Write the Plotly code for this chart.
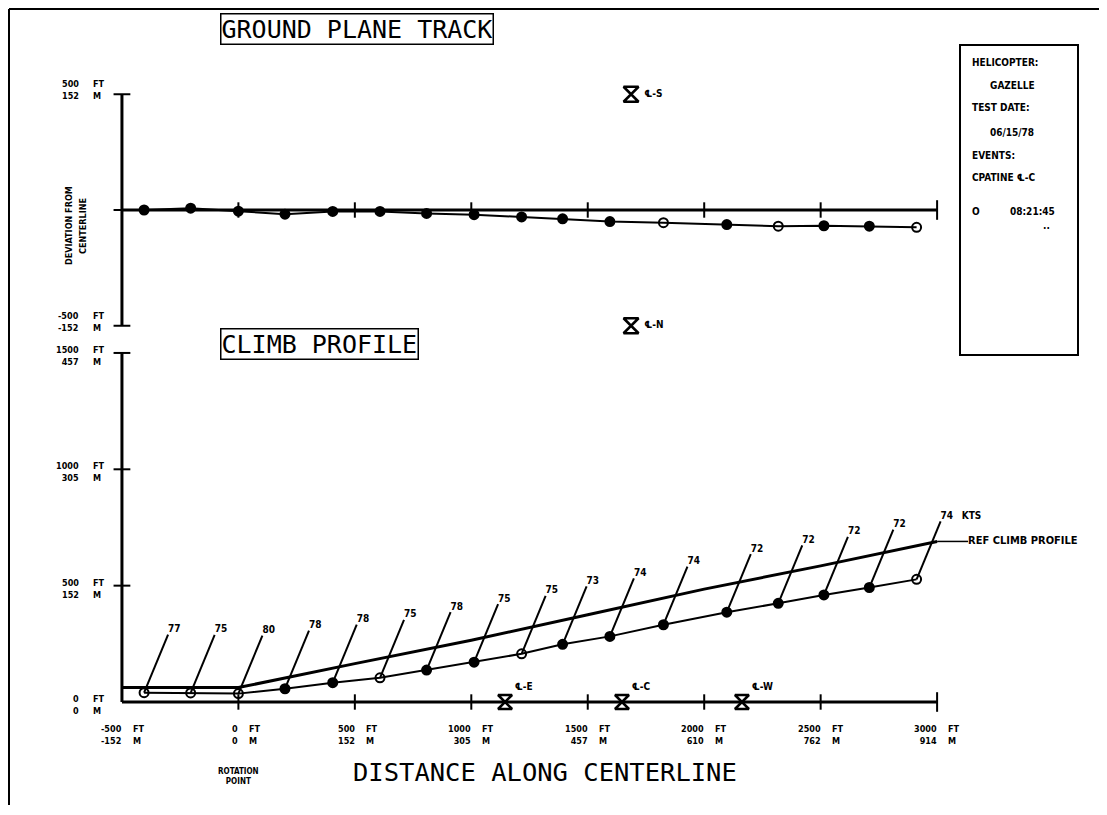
import plotly.graph_objects as go

# ---------------- data ----------------
dist_ft = [-405, -205, 0, 200, 405, 608, 808, 1012, 1216, 1392, 1595, 1825, 2097, 2318, 2514, 2709, 2912]
height_ft = [40, 39, 36, 57, 83, 104, 137, 171, 207, 248, 282, 332, 386, 424, 460, 492, 527]
deviation_ft = [0, 8, -5, -18, -6, -6, -15, -20, -30, -38, -50, -55, -63, -70, -68, -70, -75]
speed_kts = [77, 75, 80, 78, 78, 75, 78, 75, 75, 73, 74, 74, 72, 72, 72, 72, 74]

ref_dist_ft = [-500, 0, 500, 1000, 1500, 2000, 2500, 3000]
ref_height_ft = [62, 62, 165, 265, 375, 485, 585, 690]

x_ticks_ft = [-500, 0, 500, 1000, 1500, 2000, 2500, 3000]
x_ticks_m = [-152, 0, 152, 305, 457, 610, 762, 914]
climb_ticks_ft = [0, 500, 1000, 1500]
climb_ticks_m = [0, 152, 305, 457]
track_ticks_ft = [-500, 500]
track_ticks_m = [-152, 152]

mic_track_names = ["℄-S", "℄-N"]
mic_track_x = [1686, 1686]
mic_track_y = [500, -500]
mic_climb_names = ["℄-E", "℄-C", "℄-W"]
mic_climb_x = [1145, 1647, 2162]

legend_lines = ["HELICOPTER:", "GAZELLE", "TEST DATE:", "06/15/78", "EVENTS:", "CPATINE ℄-C"]
event_symbol = "O"
event_time = "08:21:45"

# ---------------- geometry / style ----------------
W, H, OFF = 1091, 799, 8          # figure size, body margin
def px_x(p): return (p - OFF) / W
def px_y(p): return 1 - (p - OFF) / H

X0, XS = 238.4, 0.2329            # px of 0 ft, px per ft (distance)
B0, BS = 702.0, 0.2327            # climb panel
T0, TS = 210.0, 0.2315            # track panel
XL, XR = 100, 1000
BT, BB = 346, 712
TT, TB = 80, 340

LEAD_DX = 24 / XS
LEAD_DY = 58 / BS
REF_TAIL = 31 / XS

INK = "black"
FB = "DejaVu Sans Condensed, DejaVu Sans, sans-serif"
FM = "DejaVu Sans Mono, Liberation Mono, monospace"
open_climb = {0, 1, 2, 5, 8, 16}
open_track = {11, 13, 16}

fig = go.Figure()

def line_trace(xs, ys, w, xa="x", ya="y"):
    return go.Scatter(x=xs, y=ys, mode="lines", xaxis=xa, yaxis=ya,
                      line=dict(color=INK, width=w), hoverinfo="skip", showlegend=False)

def tick_trace(xs, ys, sym, size, xa="x", ya="y"):
    return go.Scatter(x=xs, y=ys, mode="markers", xaxis=xa, yaxis=ya,
                      marker=dict(symbol=sym, size=size, color=INK, line=dict(color=INK, width=2)),
                      showlegend=False, hoverinfo="skip", cliponaxis=False)

# ---------- climb panel ----------
xa0, xa1 = x_ticks_ft[0], x_ticks_ft[-1]
fig.add_trace(line_trace([xa0, xa0, None, xa0, xa1],
                         [climb_ticks_ft[0], climb_ticks_ft[-1], None, 0, 0], 3))
fig.add_trace(tick_trace(x_ticks_ft[1:-1], [0] * (len(x_ticks_ft) - 2), "line-ns-open", 11))
fig.add_trace(tick_trace([xa1], [0], "line-ns-open", 14))
fig.add_trace(tick_trace([xa0] * (len(climb_ticks_ft) - 1), climb_ticks_ft[1:], "line-ew-open", 12))
# reference profile
fig.add_trace(line_trace(ref_dist_ft, ref_height_ft, 3))
fig.add_trace(go.Scatter(x=[ref_dist_ft[-1], ref_dist_ft[-1] + REF_TAIL],
                         y=[ref_height_ft[-1], ref_height_ft[-1]], mode="lines+text",
                         text=["", "<b>REF CLIMB PROFILE</b>"], textposition="middle right",
                         textfont=dict(family=FB, size=11, color=INK),
                         line=dict(color=INK, width=1.5), showlegend=False,
                         hoverinfo="skip", cliponaxis=False))
# leaders
lx, ly = [], []
for x, y in zip(dist_ft, height_ft):
    lx += [x, x + LEAD_DX, None]
    ly += [y, y + LEAD_DY, None]
fig.add_trace(line_trace(lx, ly, 2))
labels = ["<b>%d</b>" % s for s in speed_kts]
labels[-1] += "\u00a0\u00a0\u00a0<b>KTS</b>"
fig.add_trace(go.Scatter(x=[x + LEAD_DX for x in dist_ft], y=[y + LEAD_DY for y in height_ft],
                         mode="text", text=labels, textposition="top right",
                         textfont=dict(family=FB, size=10, color=INK),
                         showlegend=False, hoverinfo="skip", cliponaxis=False))
# flight path
fig.add_trace(go.Scatter(x=dist_ft, y=height_ft, mode="lines+markers",
                         line=dict(color=INK, width=2),
                         marker=dict(symbol=["circle-open" if i in open_climb else "circle"
                                             for i in range(len(dist_ft))],
                                     size=9, color=INK, line=dict(color=INK, width=2)),
                         showlegend=False, cliponaxis=False))
fig.add_trace(go.Scatter(x=mic_climb_x, y=[0] * len(mic_climb_x), mode="markers+text",
                         text=["<b>%s</b>" % n for n in mic_climb_names], textposition="top right",
                         textfont=dict(family=FB, size=10, color=INK),
                         marker=dict(symbol="hourglass-open", size=14, color=INK,
                                     line=dict(color=INK, width=2.5)),
                         showlegend=False, cliponaxis=False))

# ---------- ground track panel ----------
fig.add_trace(line_trace([xa0, xa0, None, xa0, xa1],
                         [track_ticks_ft[0], track_ticks_ft[-1], None, 0, 0], 3, "x2", "y2"))
fig.add_trace(tick_trace(x_ticks_ft[1:-1], [0] * (len(x_ticks_ft) - 2), "line-ns-open", 11, "x2", "y2"))
fig.add_trace(tick_trace([xa1], [0], "line-ns-open", 14, "x2", "y2"))
fig.add_trace(tick_trace([xa0] * 3, [track_ticks_ft[0], 0, track_ticks_ft[-1]], "line-ew-open", 12, "x2", "y2"))
fig.add_trace(go.Scatter(x=dist_ft, y=deviation_ft, mode="lines+markers", xaxis="x2", yaxis="y2",
                         line=dict(color=INK, width=2),
                         marker=dict(symbol=["circle-open" if i in open_track else "circle"
                                             for i in range(len(dist_ft))],
                                     size=9, color=INK, line=dict(color=INK, width=2)),
                         showlegend=False, cliponaxis=False))
fig.add_trace(go.Scatter(x=mic_track_x, y=mic_track_y, mode="markers+text", xaxis="x2", yaxis="y2",
                         text=["\u00a0<b>%s</b>" % n for n in mic_track_names], textposition="middle right",
                         textfont=dict(family=FB, size=10, color=INK),
                         marker=dict(symbol="hourglass-open", size=15, color=INK,
                                     line=dict(color=INK, width=2.5)),
                         showlegend=False, cliponaxis=False))

# ---------- axes ----------
xrange_ = [(XL - X0) / XS, (XR - X0) / XS]
ax_common = dict(showgrid=False, zeroline=False, showline=False, showticklabels=False, ticks="")
fig.update_layout(
    width=W, height=H, margin=dict(l=0, r=0, t=0, b=0),
    paper_bgcolor="white", plot_bgcolor="white", showlegend=False,
    xaxis=dict(domain=[px_x(XL), px_x(XR)], range=xrange_, anchor="y", **ax_common),
    yaxis=dict(domain=[px_y(BB), px_y(BT)], range=[(B0 - BB) / BS, (B0 - BT) / BS], anchor="x", **ax_common),
    xaxis2=dict(domain=[px_x(XL), px_x(XR)], range=xrange_, anchor="y2", **ax_common),
    yaxis2=dict(domain=[px_y(TB), px_y(TT)], range=[(T0 - TB) / TS, (T0 - TT) / TS], anchor="x2", **ax_common),
)

ann = []
def A(**kw):
    base = dict(showarrow=False, font=dict(family=FB, size=9, color=INK),
                xanchor="center", yanchor="middle")
    base.update(kw)
    ann.append(base)

# x tick labels
for ft, m in zip(x_ticks_ft, x_ticks_m):
    A(text="<b>%d<br>%d</b>" % (ft, m), xref="x", x=ft, xshift=2, xanchor="right",
      yref="paper", y=px_y(722), yanchor="top", align="right")
    A(text="<b>FT<br>M</b>", xref="x", x=ft, xshift=9, xanchor="left",
      yref="paper", y=px_y(722), yanchor="top", align="left")
# climb y tick labels
for ft, m in zip(climb_ticks_ft, climb_ticks_m):
    A(text="<b>%d<br>%d</b>" % (ft, m), xref="paper", x=px_x(81), xanchor="right",
      yref="y", y=ft, yshift=-3, align="right")
    A(text="<b>FT<br>M</b>", xref="paper", x=px_x(91), xanchor="left",
      yref="y", y=ft, yshift=-3, align="left")
# track y tick labels
for ft, m in zip(track_ticks_ft, track_ticks_m):
    A(text="<b>%d<br>%d</b>" % (ft, m), xref="paper", x=px_x(81), xanchor="right",
      yref="y2", y=ft, yshift=4, align="right")
    A(text="<b>FT<br>M</b>", xref="paper", x=px_x(91), xanchor="left",
      yref="y2", y=ft, yshift=4, align="left")
# track axis title
A(text="<b>DEVIATION FROM</b>", xref="paper", x=px_x(69), yref="paper", y=px_y(226),
  textangle=-90, font=dict(family=FB, size=9, color=INK))
A(text="<b>CENTERLINE</b>", xref="paper", x=px_x(83), yref="paper", y=px_y(226),
  textangle=-90, font=dict(family=FB, size=9, color=INK))
# panel titles
A(text="GROUND PLANE TRACK", xref="paper", x=px_x(220), xanchor="left", yref="paper", y=px_y(29),
  font=dict(family=FM, size=25, color=INK), bordercolor=INK, borderwidth=1.5, borderpad=0)
A(text="CLIMB PROFILE", xref="paper", x=px_x(220), xanchor="left", yref="paper", y=px_y(344),
  font=dict(family=FM, size=25, color=INK), bordercolor=INK, borderwidth=1.5, borderpad=0)
# x-axis title
A(text="DISTANCE ALONG CENTERLINE", xref="paper", x=px_x(545), yref="paper", y=px_y(772),
  font=dict(family=FM, size=25.5, color=INK))
A(text="<b>ROTATION<br>POINT</b>", xref="x", x=0, yref="paper", y=px_y(776),
  font=dict(family=FB, size=8, color=INK))
# legend box text
rows_y = [62, 85, 108, 132, 155, 178]
rows_x = [970, 988, 970, 988, 970, 970]
for t, yy, xx in zip(legend_lines, rows_y, rows_x):
    A(text="<b>%s</b>" % t, xref="paper", x=px_x(xx), xanchor="left", yref="paper", y=px_y(yy),
      font=dict(family=FB, size=10, color=INK))
A(text="<b>%s</b>" % event_symbol, xref="paper", x=px_x(970), xanchor="left", yref="paper", y=px_y(211),
  font=dict(family=FB, size=10, color=INK))
A(text="<b>%s</b>" % event_time, xref="paper", x=px_x(1008), xanchor="left", yref="paper", y=px_y(211),
  font=dict(family=FB, size=10, color=INK))
A(text="<b>..</b>", xref="paper", x=px_x(1046), yref="paper", y=px_y(226),
  font=dict(family=FB, size=10, color=INK))
fig.update_layout(annotations=ann)

shapes = [
    dict(type="rect", xref="paper", yref="paper", x0=px_x(960), x1=px_x(1078), y0=px_y(355), y1=px_y(45),
         line=dict(color=INK, width=2)),
    dict(type="line", xref="paper", yref="paper", x0=px_x(9), x1=px_x(9), y0=px_y(805), y1=px_y(9),
         line=dict(color=INK, width=2)),
    dict(type="line", xref="paper", yref="paper", x0=px_x(9), x1=px_x(1107), y0=px_y(9), y1=px_y(9),
         line=dict(color=INK, width=2)),
]
fig.update_layout(shapes=shapes)

fig.write_html("out.html")
